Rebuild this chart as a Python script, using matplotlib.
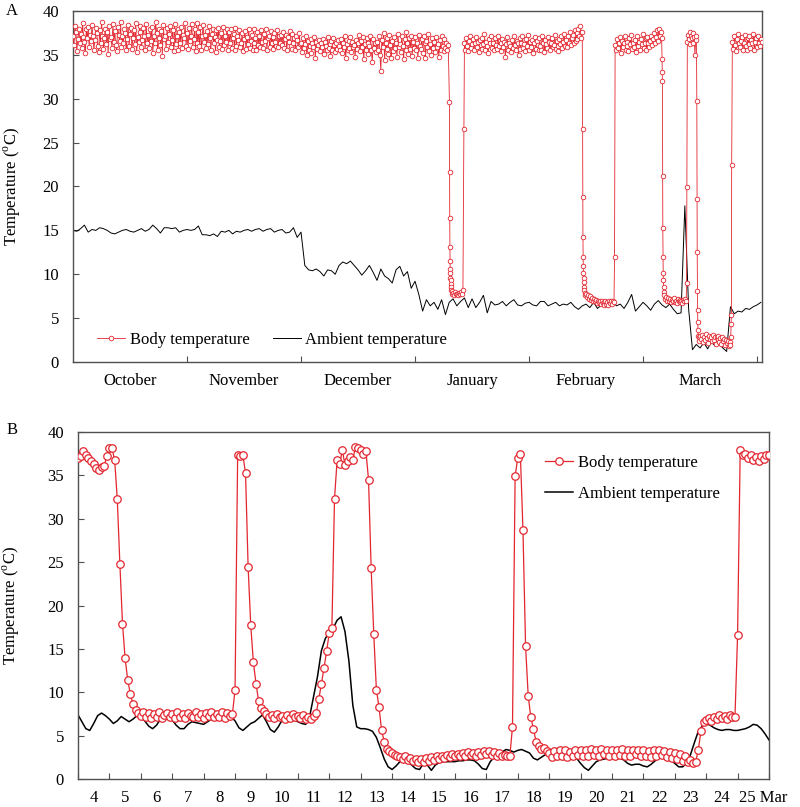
import numpy as np
import matplotlib
matplotlib.use("Agg")
import matplotlib.pyplot as plt
from matplotlib.ticker import FixedLocator, FixedFormatter, NullFormatter

plt.rcParams['font.family'] = ['Liberation Serif', 'DejaVu Serif']
plt.rcParams['mathtext.fontset'] = 'custom'
plt.rcParams['mathtext.rm'] = 'Liberation Serif'
plt.rcParams['font.size'] = 12

# ---------------- Panel A data (days since 1 October) ----------------
a_month_labels = ["October", "November", "December", "January", "February", "March"]
a_month_ticks = [30, 60, 90, 120, 150, 180]
a_month_centers = [15, 45, 75, 105, 135, 165]

# body temperature: segments (start day, step in days, values)
a_bt_eu1 = [
    37.2, 36.1, 38.3, 37.6, 35.4, 36.8, 38.0, 36.3, 37.4, 35.8, 38.6, 37.0, 36.5, 35.2, 37.9, 36.9, 38.2, 35.9, 37.3, 36.6,
    38.4, 37.1, 35.6, 36.7, 38.1, 37.5, 36.0, 35.3, 37.8, 36.4, 38.7, 37.2, 35.7, 36.9, 38.0, 36.2, 37.6, 35.1, 38.3, 36.8,
    37.0, 35.8, 38.5, 36.5, 37.7, 36.1, 35.4, 38.2, 37.3, 36.6, 38.8, 35.9, 37.1, 36.3, 38.0, 37.5, 35.5, 36.8, 38.4, 36.0,
    37.4, 38.1, 35.7, 36.9, 37.8, 36.2, 38.6, 35.3, 37.0, 36.5, 38.3, 37.6, 35.9, 36.7, 38.1, 37.2, 35.6, 38.5, 36.4, 37.3,
    35.8, 37.9, 36.6, 38.2, 35.2, 37.1, 36.3, 38.7, 37.5, 35.6, 36.9, 38.0, 36.1, 37.7, 34.9, 38.4, 36.8, 37.2, 35.7, 38.1,
    36.5, 37.4, 38.3, 35.9, 36.7, 37.8, 35.4, 38.5, 36.2, 37.1, 38.0, 35.6, 37.6, 36.4, 38.2, 35.8, 37.3, 36.9, 38.6, 36.0,
    37.5, 35.7, 38.1, 36.6, 37.2, 38.5, 35.9, 36.8, 37.9, 35.4, 38.6, 36.3, 37.6, 36.0, 38.2, 35.6, 37.1, 38.4, 36.5, 37.3,
    35.8, 37.7, 36.2, 38.3, 36.9, 35.5, 37.4, 38.0, 36.4, 37.0, 35.3, 37.8, 36.7, 38.1, 35.9, 36.6, 37.5, 35.7, 38.2, 36.1,
    37.2, 36.5, 38.0, 35.6, 37.6, 36.3, 37.9, 35.8, 36.9, 37.4, 35.5, 38.1, 36.0, 37.1, 36.7, 37.8, 35.9, 36.4, 37.5, 35.4,
    36.8, 37.7, 35.7, 37.0, 36.2, 38.0, 35.8, 36.6, 37.3, 35.6, 37.9, 36.4, 36.9, 35.5, 37.6, 36.1, 37.2, 35.9, 37.8, 36.5,
    35.8, 37.4, 36.6, 37.9, 35.6, 36.9, 37.2, 35.9, 37.7, 36.3, 37.0, 35.7, 37.5, 36.5, 36.0, 37.8, 35.9, 37.1, 36.4, 37.3,
    36.1, 37.6, 35.8, 36.8, 37.3, 35.5, 37.0, 36.5, 37.7, 36.0, 35.7, 37.4, 36.3, 36.9, 35.6, 37.2, 36.7, 35.9, 37.5, 36.2,
    36.4, 35.3, 36.9, 35.8, 36.2, 37.1, 35.0, 36.6, 35.6, 36.0, 36.8, 35.2, 36.3, 35.9, 37.0, 34.6, 36.5, 35.7, 36.1, 36.7,
    35.4, 36.3, 35.9, 36.8, 35.1, 36.5, 36.0, 35.6, 37.0, 35.8, 36.2, 34.9, 36.6, 35.5, 36.9, 36.1, 35.3, 36.4, 35.7, 36.7,
    36.0, 35.5, 36.8, 35.2, 36.4, 35.9, 37.1, 34.7, 36.2, 35.6, 36.6, 35.8, 37.0, 35.3, 36.5, 35.9, 36.1, 34.8, 36.7, 35.7,
    36.3, 37.3, 35.4, 36.6, 35.9, 37.0, 34.5, 36.2, 35.6, 36.9, 35.1, 36.4, 36.0, 37.2, 35.5, 34.2, 36.8, 35.8, 36.3, 35.3,
    36.5, 35.6, 37.2, 35.0, 33.2, 36.7, 35.9, 37.5, 34.4, 36.3, 35.7, 36.9, 35.1, 37.3, 36.1, 34.6, 36.6, 35.4, 37.0, 35.8,
    36.4, 34.8, 37.4, 35.9, 36.2, 35.3, 37.1, 36.0, 34.5, 36.8, 35.6, 37.6, 36.3, 35.1, 36.9, 35.7, 37.2, 34.9, 36.5, 35.8,
    37.0, 35.5, 36.3, 34.6, 37.3, 36.0, 35.7, 36.8, 35.2, 37.1, 36.4, 34.7, 36.6, 35.9, 37.4, 35.4, 36.2, 35.0, 36.9, 35.8,
    36.5, 35.3, 37.0, 35.9, 36.2, 34.8, 36.7, 35.6, 37.1, 36.0, 35.4, 36.8, 35.8, 36.4, 35.5, 36.1,
]
a_bt_drop1 = [29.6, 21.6, 16.4, 13.1, 11.5, 10.6, 10.1, 9.6, 9.3, 8.9, 8.5, 8.2]
a_bt_tor1 = [8.1, 7.7, 7.9, 7.6, 8.0, 7.7, 7.8, 7.6, 7.9, 7.7, 8.0, 7.8, 8.2]
a_bt_ar1 = [26.5]
a_bt_eu2 = [
    36.3, 35.6, 36.9, 36.0, 35.4, 36.6, 37.1, 35.8, 36.2, 36.8, 35.5, 36.4, 37.0, 35.9, 36.5, 35.3, 36.7, 36.1, 35.7, 36.9,
    36.2, 37.4, 35.6, 36.5, 36.0, 35.2, 36.8, 36.3, 37.1, 35.8, 36.4, 35.5, 36.9, 36.1, 35.7, 37.2, 36.0, 36.6, 35.4, 36.3,
    36.8, 35.9, 36.5, 34.8, 36.2, 37.0, 35.6, 36.4, 36.0, 35.3, 36.7, 35.8, 37.2, 36.1, 35.5, 36.6, 36.3, 35.0, 36.9, 35.7,
    36.4, 37.1, 35.8, 36.2, 35.4, 36.8, 36.0, 37.3, 35.6, 36.5, 35.9, 36.7, 35.2, 36.3, 37.0, 35.7, 36.6, 36.1, 35.5, 36.9,
    36.0, 35.6, 37.2, 36.4, 35.3, 36.7, 36.2, 35.8, 37.0, 36.5, 35.5, 36.3, 36.9, 35.9, 36.1, 37.3, 35.7, 36.6, 36.0, 35.4,
    36.8, 36.2, 37.1, 35.8, 36.5, 37.4, 36.0, 36.7, 35.9, 37.2, 36.4, 37.6, 36.1, 36.9, 37.3, 36.3, 37.8, 36.6, 37.5, 36.8,
    38.0, 37.2, 38.3, 36.9, 37.6,
]
a_bt_drop2 = [26.5, 18.8, 14.3, 12.0, 10.9, 10.1, 9.6, 9.1, 8.6, 8.2]
a_bt_tor2 = [7.9, 7.6, 7.8, 7.4, 7.6, 7.2, 7.5, 7.1, 7.3, 7.0, 7.2, 6.9, 7.1, 6.7, 7.0, 6.8,
             6.9, 6.6, 7.0, 6.7, 6.8, 6.5, 6.9, 6.6, 6.8, 6.5, 6.9, 6.7, 7.0, 6.6, 6.9, 6.8]
a_bt_ar2 = [12.0]
a_bt_eu3 = [
    36.1, 35.5, 36.8, 35.8, 36.4, 37.0, 35.2, 36.6, 35.9, 36.3,
    37.2, 35.6, 36.5, 36.0, 35.4, 36.9, 36.2, 37.3, 35.7, 36.4,
    35.9, 36.7, 35.3, 37.1, 36.0, 36.5, 35.6, 36.8, 36.2, 37.4,
    35.8, 36.3, 36.9, 35.5, 37.0, 36.4, 35.9, 36.6, 37.2, 36.1,
    36.8, 37.5, 36.3, 37.0, 37.8, 36.6, 38.0, 37.1, 37.6, 36.9,
]
a_bt_drop3 = [34.5, 33.0, 32.0, 21.2, 15.3, 12.0, 10.1, 9.3, 8.6, 8.0]
a_bt_tor3 = [7.6, 7.2, 7.4, 7.0, 7.3, 6.9, 7.2, 6.8, 7.1, 6.9, 7.3, 6.8,
             7.0, 6.7, 7.2, 6.9, 7.1, 6.8, 7.0, 6.7, 7.1, 6.9, 7.2, 7.0]
a_bt_ar3 = [9.0, 19.9]
a_bt_eu4 = [36.5, 37.3, 36.8, 37.6, 36.2, 37.1, 36.9, 37.5, 36.4, 37.0, 35.0, 36.7, 37.2]
a_bt_drop4 = [29.7, 18.6, 12.5, 8.1, 5.9, 4.6, 3.6, 3.0]
a_bt_tor4 = [2.8, 2.4, 3.0, 2.6, 3.1, 2.3, 2.9, 2.5, 3.2, 2.7,
             2.2, 3.0, 2.6, 2.9, 2.4, 3.1, 2.5, 2.8, 2.1, 2.9,
             2.6, 3.0, 2.3, 2.7, 2.0, 2.8, 2.4, 2.6, 1.9, 2.5,
             2.2, 2.4, 1.8, 2.3]
a_bt_ar4 = [1.9, 2.9, 4.3, 5.4, 22.5]
a_bt_eu5 = [36.5, 35.7, 37.2, 36.1, 35.4, 36.8, 37.4, 36.3, 35.9, 36.6,
            37.0, 35.6, 36.4, 37.3, 36.0, 35.5, 36.9, 36.2, 37.1, 35.8,
            36.7, 36.3, 37.4, 35.6, 36.5, 36.9, 35.9, 37.2, 36.4, 36.0,
            36.8, 36.5]

a_bt_segments = [
    (0.0, 0.25, a_bt_eu1), (99.05, 0.04, a_bt_drop1), (99.6, 0.25, a_bt_tor1),
    (102.85, 0.1, a_bt_ar1), (103.0, 0.25, a_bt_eu2), (134.1, 0.04, a_bt_drop2),
    (134.6, 0.25, a_bt_tor2), (142.5, 0.1, a_bt_ar2), (142.65, 0.25, a_bt_eu3),
    (155.0, 0.05, a_bt_drop3), (155.6, 0.25, a_bt_tor3), (161.45, 0.08, a_bt_ar3),
    (161.65, 0.2, a_bt_eu4), (164.15, 0.05, a_bt_drop4), (164.6, 0.25, a_bt_tor4),
    (173.0, 0.08, a_bt_ar4), (173.5, 0.25, a_bt_eu5),
]

# ambient temperature, one value per day
a_amb = [
    15.0, 14.9, 15.2, 15.6, 14.8, 15.1, 15.0, 15.3, 15.2, 15.0,
    14.7, 14.6, 14.8, 15.0, 15.1, 14.9, 14.8, 15.0, 15.2, 14.9,
    15.1, 15.6, 15.2, 14.7, 15.3, 15.3, 15.2, 15.3, 14.8, 15.0,
    15.1, 15.0, 15.1, 15.5, 14.5, 14.5, 14.4, 14.6, 14.3, 14.9,
    14.8, 15.0, 14.6, 14.9, 14.8, 15.0, 15.1, 14.9, 15.1, 15.2,
    14.9, 15.1, 15.2, 14.8, 15.0, 15.1, 14.7, 14.8, 15.3, 14.2,
    14.8, 11.0, 10.5, 10.4, 10.6, 10.3, 9.8, 10.5, 10.4, 10.0,
    11.0, 11.4, 11.2, 11.5, 11.0, 10.5, 9.9, 10.4, 11.0, 10.2,
    9.3, 10.6, 9.8, 9.5, 9.0, 10.5, 10.9, 9.8, 10.3, 8.4,
    9.2, 7.7, 5.8, 7.1, 6.4, 6.8, 6.0, 7.1, 5.4, 6.8,
    7.2, 6.4, 6.9, 7.3, 6.2, 7.2, 6.2, 6.8, 7.6, 5.6,
    6.9, 6.5, 6.6, 6.9, 6.4, 6.8, 7.1, 6.5, 6.4, 6.7,
    6.8, 6.5, 6.4, 6.9, 6.9, 6.4, 6.6, 6.8, 6.4, 6.6,
    6.5, 6.8, 6.3, 6.0, 6.4, 6.6, 6.2, 6.8, 6.1, 6.5,
    6.7, 6.2, 6.9, 6.4, 6.6, 6.1, 6.8, 7.7, 5.8, 6.3,
    6.8, 6.4, 5.9, 6.6, 7.0, 6.5, 6.2, 6.6, 6.0, 5.5,
    5.6, 17.8, 6.0, 1.4, 2.0, 1.6, 2.2, 1.5, 2.3, 1.8,
    2.1, 1.6, 1.2, 6.3, 5.5, 5.8, 5.7, 6.1, 6.0, 6.3,
    6.5, 6.8,
]

# ---------------- Panel B data (days since 4 March 00:00) ----------------
b_day_labels = [str(d) for d in range(4, 25)] + ["25 Mar"]
# body temperature every 2 h (12 per day)
b_bt = [
    37.0, 37.2, 37.8, 37.4, 37.0, 36.7, 36.3, 35.9, 35.6, 36.0, 36.1, 37.2,
    38.2, 38.1, 36.8, 32.3, 24.8, 17.9, 13.9, 11.4, 9.8, 8.6, 7.9, 7.6,
    7.3, 7.7, 7.1, 7.6, 7.0, 7.5, 7.2, 7.7, 7.0, 7.4, 7.6, 7.1,
    7.5, 7.0, 7.7, 7.2, 7.5, 7.0, 7.6, 7.3, 7.1, 7.7, 7.2, 7.5,
    7.0, 7.6, 7.3, 7.7, 7.1, 7.5, 7.2, 7.7, 7.0, 7.6, 7.3, 7.5,
    10.3, 37.4, 37.2, 37.3, 35.3, 24.4, 17.7, 13.5, 11.0, 9.0, 8.2, 7.8,
    7.5, 7.1, 7.4, 7.0, 7.5, 7.1, 7.3, 6.9, 7.4, 7.0, 7.5, 7.1,
    7.3, 7.0, 7.4, 6.9, 7.2, 6.9, 7.3, 7.6, 9.2, 11.0, 12.8, 14.8,
    16.8, 17.4, 32.3, 36.8, 36.3, 37.9, 36.2, 36.7, 37.1, 36.8, 38.3, 38.1,
    37.9, 37.5, 37.8, 34.5, 24.3, 16.7, 10.3, 8.3, 5.6, 4.3, 3.5, 3.2,
    3.0, 2.8, 2.6, 2.5, 2.3, 2.6, 2.2, 2.4, 2.1, 2.3, 2.0, 2.3,
    2.0, 2.4, 2.1, 2.5, 2.2, 2.6, 2.3, 2.7, 2.4, 2.8, 2.5, 2.9,
    2.6, 2.9, 2.7, 3.0, 2.7, 3.1, 2.8, 3.0, 2.7, 3.1, 2.8, 3.2,
    2.9, 3.2, 2.8, 3.1, 2.7, 3.0, 2.6, 2.8, 2.6, 2.7, 6.0, 34.9,
    37.0, 37.5, 28.7, 15.3, 9.6, 7.1, 5.8, 4.3, 3.8, 3.5, 3.6, 3.2,
    3.0, 2.5, 3.2, 2.6, 3.4, 2.7, 3.3, 2.5, 3.1, 2.6, 3.4, 2.8,
    3.3, 2.6, 3.4, 2.7, 3.5, 2.8, 3.3, 2.6, 3.5, 2.9, 3.4, 2.7,
    3.3, 2.6, 3.4, 2.8, 3.5, 2.7, 3.3, 2.6, 3.4, 2.9, 3.3, 2.6,
    3.4, 2.7, 3.2, 2.5, 3.3, 2.6, 3.4, 2.8, 3.2, 2.5, 3.1, 2.4,
    3.0, 2.3, 2.9, 2.1, 2.6, 2.0, 2.2, 1.9, 2.0, 3.4, 5.5, 6.6,
    6.8, 7.0, 6.7, 7.2, 6.9, 7.4, 7.0, 7.3, 6.9, 7.4, 7.1, 7.2,
    16.6, 37.9, 37.3, 37.5, 37.0, 37.4, 36.8, 37.1, 36.6, 37.2, 36.9, 37.4,
    37.3,
]
# ambient temperature every 3 h (8 per day)
b_amb = [
    7.4, 6.6, 5.8, 5.6, 6.4, 7.3, 7.6, 7.3,
    6.9, 6.4, 6.7, 7.2, 6.9, 6.6, 6.9, 7.3,
    7.2, 6.7, 6.1, 5.8, 6.2, 6.9, 7.3, 7.2,
    6.8, 6.2, 5.8, 5.8, 6.3, 6.6, 6.5, 6.4,
    6.3, 6.6, 6.9, 7.1, 7.0, 7.0, 7.0, 7.2,
    6.7, 5.9, 5.6, 6.0, 6.4, 6.6, 7.0, 7.4,
    6.6, 5.7, 5.4, 6.0, 6.8, 7.1, 7.0, 6.8,
    6.6, 6.4, 6.3, 7.2, 9.5, 11.8, 14.8, 16.2,
    16.9, 17.4, 18.3, 18.7, 17.0, 13.6, 8.5, 6.0,
    5.8, 5.8, 5.7, 5.5, 4.8, 3.6, 2.3, 1.4,
    1.1, 1.5, 2.0, 2.3, 2.0, 1.6, 1.2, 1.1,
    1.8, 1.6, 1.0, 1.6, 1.9, 2.0, 2.0, 2.0,
    2.0, 2.1, 2.1, 2.2, 2.2, 2.1, 1.7, 1.2,
    1.1, 2.0, 2.5, 2.9, 3.1, 3.4, 3.3, 3.1,
    3.3, 3.4, 3.2, 3.0, 2.4, 2.2, 2.5, 2.8,
    3.1, 3.4, 3.5, 3.5, 3.4, 3.3, 2.9, 2.4,
    1.8, 1.3, 1.0, 1.5, 2.0, 2.2, 2.3, 2.4,
    2.5, 2.5, 2.4, 2.2, 1.8, 1.6, 1.7, 1.7,
    1.5, 1.4, 1.7, 2.1, 2.4, 2.6, 2.4, 2.2,
    1.8, 1.4, 1.4, 1.8, 2.8, 4.2, 5.5, 6.1,
    6.4, 6.2, 5.9, 5.7, 5.6, 5.7, 5.7, 5.6,
    5.6, 5.7, 5.8, 6.0, 6.3, 6.2, 5.8, 5.2,
    4.5,
]

# ---------------- styling ----------------
RED = '#e3262f'
SPINE = '#505050'
W, H = 800, 807

fig = plt.figure(figsize=(W / 100, H / 100), dpi=100)

def px_axes(l, t, r, b):
    return fig.add_axes([l / W, 1 - b / H, (r - l) / W, (b - t) / H])

def style_axes(ax):
    for s in ax.spines.values():
        s.set_color(SPINE)
        s.set_linewidth(1.0)
    ax.set_ylim(0, 40)
    ax.set_yticks(range(0, 41, 5))
    ax.tick_params(axis='y', which='major', direction='in', length=4, width=0.8,
                   color=SPINE, pad=10, labelsize=12)
    ax.tick_params(axis='x', which='major', direction='in', length=4, width=0.8,
                   color=SPINE)
    ax.tick_params(axis='x', which='minor', length=0, labelsize=12)
    ax.xaxis.set_major_formatter(NullFormatter())

ylab = r'Temperature ($^{\rm o}$C)'

# ---------------- Panel A ----------------
axA = px_axes(73, 11, 762, 362)
a_bt_x = np.concatenate([s + st * np.arange(len(v)) for s, st, v in a_bt_segments])
a_bt_y = np.concatenate([np.asarray(v, float) for _, _, v in a_bt_segments])
a_amb_x = np.arange(len(a_amb))

axA.plot(a_amb_x, a_amb, color='black', lw=0.7, label='Ambient temperature', zorder=2)
axA.plot(a_bt_x, a_bt_y, color=RED, lw=0.6, marker='o', ms=3.3, mfc='white',
         mec=RED, mew=0.6, label='Body temperature', zorder=3)
axA.set_xlim(0, 181.3)
style_axes(axA)
axA.xaxis.set_major_locator(FixedLocator(a_month_ticks))
axA.xaxis.set_minor_locator(FixedLocator(a_month_centers))
axA.xaxis.set_minor_formatter(FixedFormatter(a_month_labels))
axA.tick_params(axis='x', which='minor', pad=8)
axA.set_ylabel(ylab, fontsize=12)
axA.yaxis.set_label_coords(-0.073, 0.5)
hA = axA.get_legend_handles_labels()
axA.legend([hA[0][1], hA[0][0]], [hA[1][1], hA[1][0]], ncol=2, frameon=False,
           loc='center left', bbox_to_anchor=((97 - 73) / 689, (362 - 340) / 351),
           borderaxespad=0, borderpad=0, handlelength=1.7, handletextpad=0.25,
           columnspacing=1.4, numpoints=1, fontsize=12)
fig.text(12 / W, 1 - 11 / H, 'A', fontsize=12, ha='center', va='center')

# ---------------- Panel B ----------------
axB = px_axes(78, 432, 769, 779)
b_bt_x = np.arange(len(b_bt)) / 12.0
b_amb_x = np.arange(len(b_amb)) / 8.0
axB.plot(b_amb_x, b_amb, color='black', lw=1.1, label='Ambient temperature', zorder=2)
axB.plot(b_bt_x, b_bt, color=RED, lw=0.9, marker='o', ms=5.4, mfc='white',
         mec=RED, mew=0.9, label='Body temperature', zorder=3)
axB.set_xlim(0, 22.0)
style_axes(axB)
axB.xaxis.set_major_locator(FixedLocator(np.arange(0, 23)))
b_label_pos = list(np.arange(21) + 0.5) + [21.82]
axB.xaxis.set_minor_locator(FixedLocator(b_label_pos))
axB.xaxis.set_minor_formatter(FixedFormatter(b_day_labels))
axB.tick_params(axis='x', which='minor', pad=8)
axB.set_ylabel(ylab, fontsize=12)
axB.yaxis.set_label_coords(-0.081, 0.5)
hB = axB.get_legend_handles_labels()
axB.legend([hB[0][1], hB[0][0]], [hB[1][1], hB[1][0]], frameon=False,
           loc='upper left', bbox_to_anchor=((545 - 78) / 691, (779 - 455) / 347),
           borderaxespad=0, borderpad=0, handlelength=1.7, handletextpad=0.25,
           labelspacing=0.9, numpoints=1, fontsize=12)
fig.text(12 / W, 1 - 430 / H, 'B', fontsize=12, ha='center', va='center')

fig.savefig('out.png', dpi=100)
